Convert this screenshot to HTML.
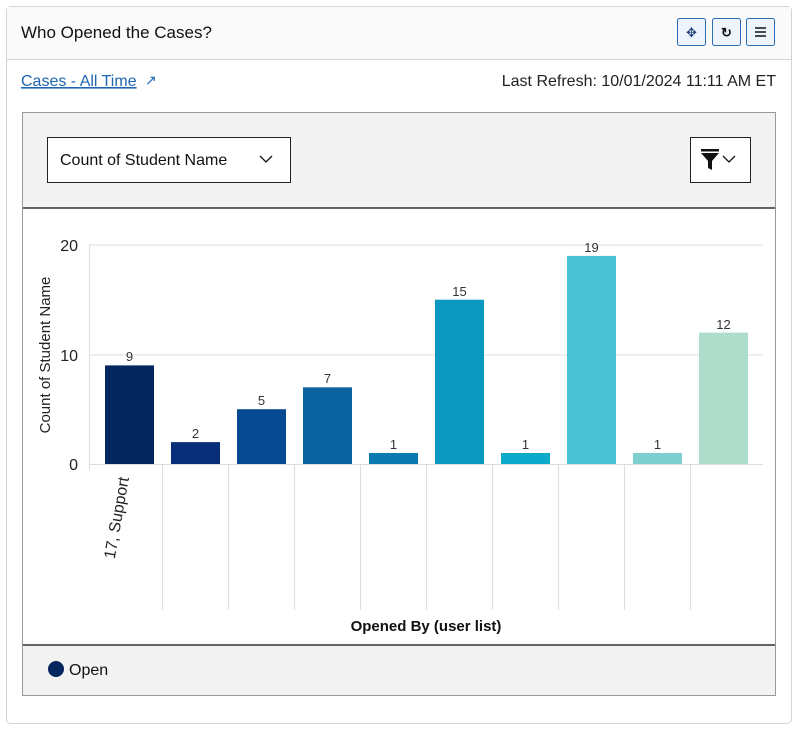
<!DOCTYPE html>
<html><head><style>
body{margin:0;width:800px;height:734px;background:#fff;font-family:"Liberation Sans",sans-serif;overflow:hidden}
</style></head><body>
<svg width="800" height="734" xmlns="http://www.w3.org/2000/svg" font-family="Liberation Sans, sans-serif">
<rect x="6.5" y="6.5" width="785" height="717" rx="4" fill="#fff" stroke="#d4d4d4"/>
<rect x="7" y="7" width="784" height="52" fill="#fafafa"/>
<line x1="7" y1="59.5" x2="791" y2="59.5" stroke="#d4d4d4"/>
<text x="21" y="38" font-size="17" fill="#111">Who Opened the Cases?</text>
<g fill="#eef4fb" stroke="#2a6db5">
<rect x="677.5" y="18.5" width="28" height="27" rx="2"/>
<rect x="712.5" y="18.5" width="28" height="27" rx="2"/>
<rect x="746.5" y="18.5" width="28" height="27" rx="2"/>
</g>
<text x="691.5" y="37" font-size="13" text-anchor="middle" fill="#1a3d7a">✥</text>
<text x="726.5" y="37" font-size="13" text-anchor="middle" fill="#111" font-weight="bold">↻</text>
<g stroke="#111" stroke-width="1.5"><line x1="755" y1="28" x2="766" y2="28"/><line x1="755" y1="32" x2="766" y2="32"/><line x1="755" y1="36" x2="766" y2="36"/></g>
<text x="21" y="86" font-size="16" fill="#1e66b0" text-decoration="underline">Cases - All Time</text>
<text x="145" y="85" font-size="14" fill="#1e66b0">↗</text>
<text x="776" y="86" font-size="16" fill="#222" text-anchor="end">Last Refresh: 10/01/2024 11:11 AM ET</text>
<rect x="22.5" y="112.5" width="753" height="583" fill="#f3f3f3" stroke="#999"/>
<rect x="23" y="208" width="752" height="437" fill="#fff"/>
<line x1="23" y1="208" x2="775" y2="208" stroke="#333" stroke-width="1.5"/>
<line x1="23" y1="645" x2="775" y2="645" stroke="#333" stroke-width="1.5"/>
<rect x="47.5" y="137.5" width="243" height="45" fill="#fff" stroke="#222"/>
<text x="60" y="165" font-size="16" fill="#111">Count of Student Name</text>
<polyline points="260,156 266,162 272,156" fill="none" stroke="#111" stroke-width="1.3"/>
<rect x="690.5" y="137.5" width="60" height="45" fill="#fff" stroke="#222"/>
<polygon points="701,153 719,153 712,161 712,170 708,168 708,161" fill="#111"/>
<rect x="701" y="149" width="18" height="2.5" fill="#111"/>
<polyline points="723,156 729,162 735,156" fill="none" stroke="#111" stroke-width="1.3"/>
<g stroke="#ddd"><line x1="89" y1="245" x2="763" y2="245"/><line x1="89" y1="355" x2="763" y2="355"/><line x1="89" y1="464.5" x2="763" y2="464.5"/><line x1="89.5" y1="245" x2="89.5" y2="470"/>
<line x1="162.5" y1="464" x2="162.5" y2="610"/><line x1="228.5" y1="464" x2="228.5" y2="610"/><line x1="294.5" y1="464" x2="294.5" y2="610"/><line x1="360.5" y1="464" x2="360.5" y2="610"/><line x1="426.5" y1="464" x2="426.5" y2="610"/><line x1="492.5" y1="464" x2="492.5" y2="610"/><line x1="558.5" y1="464" x2="558.5" y2="610"/><line x1="624.5" y1="464" x2="624.5" y2="610"/><line x1="690.5" y1="464" x2="690.5" y2="610"/></g>
<g font-size="16" fill="#222" text-anchor="end"><text x="78" y="251">20</text><text x="78" y="361">10</text><text x="78" y="470">0</text></g>
<text transform="translate(50,355) rotate(-90)" font-size="15" fill="#222" text-anchor="middle">Count of Student Name</text>
<g>
<rect x="105" y="365.4" width="49" height="98.6" fill="#04265e"/>
<rect x="171" y="442.1" width="49" height="21.9" fill="#0a2f7a"/>
<rect x="237" y="409.2" width="49" height="54.8" fill="#074a91"/>
<rect x="303" y="387.3" width="49" height="76.7" fill="#0b63a0"/>
<rect x="369" y="453" width="49" height="11" fill="#0a7ab0"/>
<rect x="435" y="299.7" width="49" height="164.3" fill="#0a97c0"/>
<rect x="501" y="453" width="49" height="11" fill="#0eaacb"/>
<rect x="567" y="255.9" width="49" height="208.1" fill="#4bc2d4"/>
<rect x="633" y="453" width="49" height="11" fill="#7dd0d0"/>
<rect x="699" y="332.6" width="49" height="131.4" fill="#aeddcc"/>
</g>
<g font-size="13" fill="#333" text-anchor="middle">
<text x="129.5" y="361">9</text><text x="195.5" y="438">2</text><text x="261.5" y="405">5</text><text x="327.5" y="383">7</text><text x="393.5" y="449">1</text><text x="459.5" y="296">15</text><text x="525.5" y="449">1</text><text x="591.5" y="252">19</text><text x="657.5" y="449">1</text><text x="723.5" y="329">12</text>
</g>
<text transform="translate(129,478) rotate(-80)" font-size="16" fill="#222" text-anchor="end">17, Support</text>
<text x="426" y="631" font-size="15" font-weight="bold" fill="#111" text-anchor="middle">Opened By (user list)</text>
<circle cx="56" cy="669" r="8" fill="#04265e"/>
<text x="69" y="675" font-size="16" fill="#111">Open</text>
</svg>
</body></html>
